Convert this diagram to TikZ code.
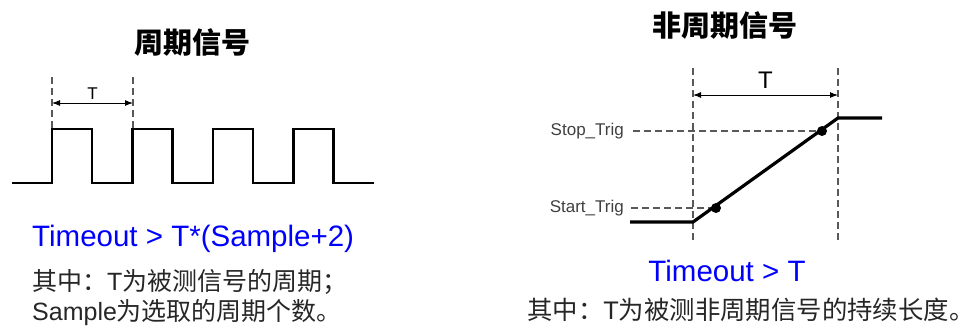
\documentclass[tikz,border=0pt]{standalone}
\usepackage{fontspec}
\setmainfont{Liberation Sans}
\newfontfamily\cjk{Noto Sans CJK SC}
\usetikzlibrary{arrows.meta}

\begin{document}
\begin{tikzpicture}[
			x = 1pt, y = -1pt,
			sig/.style = {line width = 2.8pt, line join = miter},
			guide/.style = {gray!70!black, line width = 1.3pt, dash pattern = on 6.5pt off 4.5pt},
			span/.style = {{Latex[length=8pt,width=6pt]}-{Latex[length=8pt,width=6pt]}, line width = 1pt},
			title/.style = {font = \cjk\bfseries\fontsize{29}{34}\selectfont},
			cond/.style = {text = blue, font = \fontsize{29.5}{34}\selectfont, inner sep = 0},
			note/.style = {font = \fontsize{25}{30}\selectfont, inner sep = 0, text = black!85},
			lvl/.style = {font = \fontsize{17}{20}\selectfont, inner sep = 0, text = black!75, anchor = east},
			dot/.style = {circle, fill, inner sep = 0, minimum size = 10pt}
		]
			\useasboundingbox (0,0) rectangle (977,327);

			% periodic signal
			\node[title] (ttlP) at (192,42) {周期信号};
			\draw[sig] (12,183) \foreach \k in {0,...,3}{
				-- ({52+80.5*\k},183) -- ({52+80.5*\k},129) -- ({92+80.5*\k},129) -- ({92+80.5*\k},183)} -- (374,183);
			\coordinate (pA) at (52,103);
			\coordinate (pB) at (133,103);
			\draw[guide] (52,77) -- (52,129);
			\draw[guide] (133,77) -- (133,129);
			\draw[span] (pA) -- (pB) node[midway, above = 0pt, font = \fontsize{17}{20}\selectfont] (tP) {T};
			\node[cond, anchor = base west] (toP) at (32,246) {Timeout > T*(Sample+2)};
			\node[note, anchor = west] (n1) at (32,282) {{\cjk 其中：}T{\cjk 为被测信号的周期；}};
			\node[note, anchor = west] (n2) at (32,313) {Sample{\cjk 为选取的周期个数。}};

			% aperiodic signal
			\node[title] (ttlA) at (725,25) {非周期信号};
			\draw[guide] (693,68) -- (693,240);
			\draw[guide] (838,68) -- (838,240);
			\coordinate (aA) at (693,95);
			\coordinate (aB) at (838,95);
			\draw[span] (aA) -- (aB) node[midway, above = 3pt, font = \fontsize{24}{28}\selectfont] (tA) {T};
			\node[lvl] (stop) at (624,131) {Stop\_Trig};
			\node[lvl] (start) at (624,208) {Start\_Trig};
			\node[dot] (dStop) at (822,131) {};
			\node[dot] (dStart) at (716,208) {};
			\draw[guide] (stop.east) ++(9,0) -- (dStop);
			\draw[guide] (start.east) ++(7,0) -- (dStart);
			\draw[sig, line width = 3.2pt] (630,222) -- (693,222) -- (838,118) -- (882,118);
			\node[cond, anchor = base] (toA) at (727,281) {Timeout > T};
			\node[note, anchor = west, font = \fontsize{25.4}{30}\selectfont] (n3) at (527,310) {{\cjk 其中：}T{\cjk 为被测非周期信号的持续长度。}};

		\end{tikzpicture}
\end{document}
